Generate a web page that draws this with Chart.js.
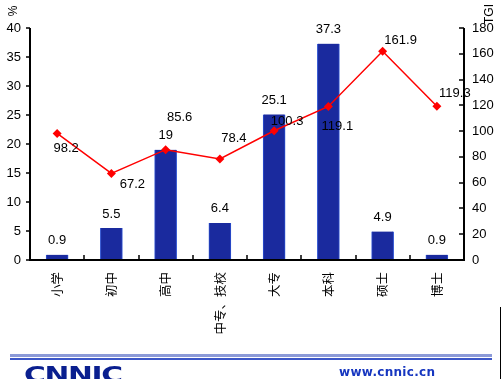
<!DOCTYPE html>
<html>
<head>
<meta charset="utf-8">
<script src="https://cdn.jsdelivr.net/npm/chart.js@4/dist/chart.umd.min.js"></script>
<style>
html,body{margin:0;padding:0;background:#fff;}
#wrap{position:relative;width:503px;height:379px;overflow:hidden;background:#fff;}
canvas{position:absolute;left:0;top:0;}
#logo{position:absolute;left:24px;top:364px;font-family:"DejaVu Sans",sans-serif;font-weight:bold;font-size:22px;color:#0a1f8f;letter-spacing:-1px;transform:scaleX(1.35);transform-origin:left top;line-height:22px;}
#url{position:absolute;left:339px;top:365px;font-family:"DejaVu Sans",sans-serif;font-weight:bold;font-size:12px;color:#1636c0;letter-spacing:0.3px;}
</style>
</head>
<body>
<div id="wrap">
<canvas id="c" width="503" height="379"></canvas>
<div id="logo">CNNIC</div>
<div id="url">www.cnnic.cn</div>
</div>
<script>
const categories = ['小学','初中','高中','中专、技校','大专','本科','硕士','博士'];
const shareValues = [0.9, 5.5, 19, 6.4, 25.1, 37.3, 4.9, 0.9];
const tgiValues = [98.2, 67.2, 85.6, 78.4, 100.3, 119.1, 161.9, 119.3];
const leftTicks = [0,5,10,15,20,25,30,35,40];
const rightTicks = [0,20,40,60,80,100,120,140,160,180];

// label offsets (style), relative to each TGI point
const lineLabelOffsets = [[9,15],[21,11],[14,-32],[14,-21],[13,-9],[9,20],[18,-11],[18,-13]];

const numFont = '13px "Liberation Sans", Arial, sans-serif';

const decor = {
  id:'decor',
  afterDraw(chart){
    const ctx = chart.ctx;
    const x = chart.scales.x, yl = chart.scales.y, yr = chart.scales.y2;
    const a = chart.chartArea;
    ctx.save();
    ctx.strokeStyle = '#000';
    ctx.lineWidth = 2;
    ctx.beginPath();
    ctx.moveTo(a.left, a.top); ctx.lineTo(a.left, a.bottom);
    ctx.lineTo(a.right, a.bottom); ctx.lineTo(a.right, a.top);
    ctx.stroke();
    ctx.lineWidth = 1.5;
    ctx.beginPath();
    leftTicks.forEach(v=>{const py=Math.round(yl.getPixelForValue(v)); ctx.moveTo(a.left-4,py); ctx.lineTo(a.left,py);});
    rightTicks.forEach(v=>{const py=Math.round(yr.getPixelForValue(v)); ctx.moveTo(a.right-5,py); ctx.lineTo(a.right,py);});
    const band = (a.right-a.left)/categories.length;
    for(let i=1;i<categories.length;i++){
      const px = Math.round(x.getPixelForValue(i) - band/2);
      ctx.moveTo(px,a.bottom); ctx.lineTo(px,a.bottom-5);
    }
    ctx.stroke();

    // value labels
    ctx.fillStyle = '#000';
    ctx.font = numFont;
    ctx.textAlign = 'center';
    ctx.textBaseline = 'middle';
    const barMeta = chart.getDatasetMeta(0);
    barMeta.data.forEach((el,i)=>{ ctx.fillText(String(shareValues[i]), el.x, el.y-14); });
    const lineMeta = chart.getDatasetMeta(1);
    lineMeta.data.forEach((el,i)=>{
      const o = lineLabelOffsets[i];
      ctx.fillText(tgiValues[i].toFixed(1), el.x+o[0], el.y+o[1]);
    });

    // axis titles
    ctx.font = '12px "Liberation Sans", Arial, sans-serif';
    ctx.save(); ctx.translate(14,11); ctx.rotate(-Math.PI/2); ctx.fillText('%',0,0); ctx.restore();
    ctx.save(); ctx.translate(490,14); ctx.rotate(-Math.PI/2); ctx.fillText('TGI',0,0); ctx.restore();

    // footer lines
    ctx.fillStyle = '#8c9ad8';
    ctx.fillRect(10,354,482,3);
    ctx.fillStyle = '#3d57c8';
    ctx.fillRect(10,358,482,2);
    ctx.strokeStyle = '#000';
    ctx.lineWidth = 1;
    ctx.beginPath(); ctx.moveTo(500.5,307); ctx.lineTo(500.5,379); ctx.stroke();
    ctx.restore();
  }
};

new Chart(document.getElementById('c'), {
  type:'bar',
  data:{
    labels: categories,
    datasets:[
      {type:'bar', data: shareValues, yAxisID:'y', backgroundColor:'#1a2a9e', borderColor:'#2a4fd0', borderWidth:{left:1,right:1,top:0,bottom:0}, barThickness:22, order:2},
      {type:'line', data: tgiValues, yAxisID:'y2', borderColor:'#ff0000', borderWidth:1.5, backgroundColor:'#ff0000', pointStyle:'rectRot', pointRadius:4.5, pointBorderWidth:0, pointBackgroundColor:'#ff0000', tension:0, order:1}
    ]
  },
  options:{
    responsive:false,
    animation:false,
    events:[],
    layout:{padding:{top:28,left:0,right:0,bottom:0}},
    plugins:{legend:{display:false}, tooltip:{enabled:false}},
    scales:{
      x:{
        offset:true,
        grid:{display:false, drawTicks:false},
        border:{display:false},
        ticks:{autoSkip:false, maxRotation:90, minRotation:90, padding:12, color:'#000', font:{family:'"Noto Sans CJK SC", sans-serif', size:12.5}},
        afterFit(s){ s.height = 119; }
      },
      y:{
        position:'left', min:0, max:40,
        afterBuildTicks(s){ s.ticks = leftTicks.map(v=>({value:v})); },
        grid:{display:false, drawTicks:false},
        border:{display:false},
        ticks:{padding:9, color:'#000', font:{family:'"Liberation Sans", Arial, sans-serif', size:13}},
        afterFit(s){ s.width = 30; }
      },
      y2:{
        position:'right', min:0, max:180,
        afterBuildTicks(s){ s.ticks = rightTicks.map(v=>({value:v})); },
        grid:{display:false, drawTicks:false},
        border:{display:false},
        ticks:{padding:8, color:'#000', font:{family:'"Liberation Sans", Arial, sans-serif', size:13}},
        afterFit(s){ s.width = 39; }
      }
    }
  },
  plugins:[decor]
});
</script>
</body>
</html>
